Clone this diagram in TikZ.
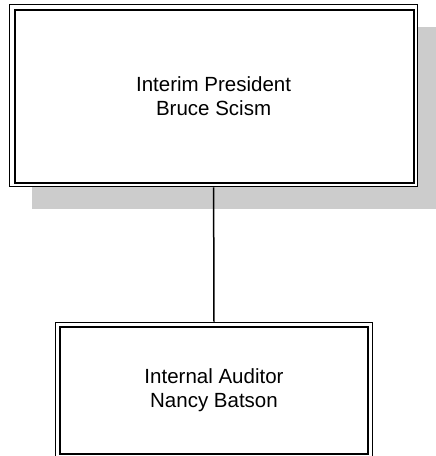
\documentclass[tikz,border=0pt]{standalone}
\usepackage{fontspec}
\setmainfont{Liberation Sans}
\usetikzlibrary{calc}
\definecolor{shadowgray}{RGB}{204,204,204}
\tikzset{
  orgbox/.style={draw=black, line width=1.2pt, fill=white, inner sep=0pt,
    align=center, font=\fontsize{20.5pt}{24pt}\selectfont},
  innerframe/.style={draw=black, line width=2pt},
  shadowbox/.style={fill=shadowgray, draw=none},
  connector/.style={draw=black, line width=1.5pt}
}
\begin{document}
\begin{tikzpicture}[x=1pt, y=-1pt]
\useasboundingbox (0,0) rectangle (436,456);
% shadow of top box
\fill[shadowgray] (32,27) rectangle (441,209);
% top box
\node[orgbox, minimum width=408.2pt, minimum height=182pt] (pres) at (213.6,95.7)
  {Interim President\\Bruce Scism};
\draw[innerframe] ($(pres.north west)+(5.6,5.6)$) rectangle ($(pres.south east)+(-4.5,-4.6)$);
% bottom box
\node[orgbox, minimum width=317.5pt, minimum height=136pt] (aud) at (214,390.2)
  {Internal Auditor\\Nancy Batson};
\draw[innerframe] ($(aud.north west)+(4.9,4.9)$) rectangle ($(aud.south east)+(-5,-5)$);
% connector
\draw[connector] (pres.south) -- (aud.north);
\end{tikzpicture}
\end{document}
